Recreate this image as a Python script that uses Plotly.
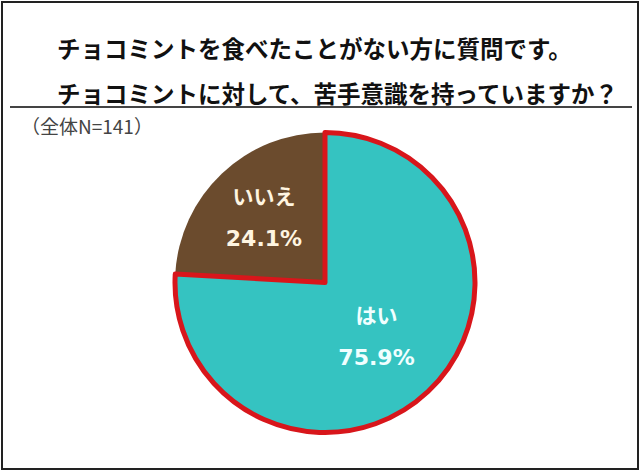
import plotly.graph_objects as go

title_lines = ["チョコミントを食べたことがない方に質問です。", "チョコミントに対して、苦手意識を持っていますか？"]
note = "（全体N=141）"
labels = ["いいえ", "はい"]
values = [24.1, 75.9]
colors = ["#6B4B2D", "#35C3C1"]
line_colors = ["rgba(0,0,0,0)", "#D8161B"]
line_widths = [0, 5]
text_colors = ["#FFF5E1", "#F0FFFF"]

W, H = 640, 471
font_jp = "Noto Sans CJK JP"
font_lbl = "DejaVu Sans, Noto Sans CJK JP"

# first slice ends at 12 o'clock, going clockwise
start_rot = -values[0] / sum(values) * 360

fig = go.Figure(go.Pie(
    labels=labels, values=values, sort=False, direction="clockwise", rotation=start_rot,
    marker=dict(colors=colors, line=dict(color=line_colors, width=line_widths)),
    texttemplate="<span style='font-size:21px'><b>%{label}</b></span><br><br>"
                 "<span style='font-size:22px'><b>%{percent:.1%}</b></span>",
    textposition="inside", insidetextorientation="horizontal",
    textfont=dict(family=font_lbl, size=16, color=text_colors),
    hoverinfo="skip", showlegend=False,
    domain=dict(x=[175 / W, 475 / W], y=[1 - 433 / H, 1 - 132 / H]),
))

fig.add_annotation(text="<b>" + title_lines[0] + "</b>", x=55 / W, y=1 - 48 / H, xref="paper", yref="paper",
                   xanchor="left", yanchor="middle", showarrow=False,
                   font=dict(family=font_jp, size=23.5, color="#111111"))
fig.add_annotation(text="<b>" + title_lines[1] + "</b>", x=55 / W, y=1 - 93 / H, xref="paper", yref="paper",
                   xanchor="left", yanchor="middle", showarrow=False,
                   font=dict(family=font_jp, size=23.5, color="#111111"))
fig.add_annotation(text=note, x=19 / W, y=1 - 126 / H, xref="paper", yref="paper",
                   xanchor="left", yanchor="middle", showarrow=False,
                   font=dict(family=font_jp, size=19, color="#444444"))

fig.add_shape(type="line", xref="paper", yref="paper", x0=10 / W, x1=632 / W, y0=1 - 107 / H, y1=1 - 107 / H,
              line=dict(color="#444444", width=2))
fig.add_shape(type="rect", xref="paper", yref="paper", x0=2 / W, x1=638 / W, y0=2 / H, y1=1 - 2 / H,
              line=dict(color="#222222", width=2))

fig.update_layout(width=W, height=H, margin=dict(l=0, r=0, t=0, b=0),
                  paper_bgcolor="white", plot_bgcolor="white")
fig.write_html("out.html", config={"displayModeBar": False},
               post_script="document.body.style.margin='0';document.body.style.overflow='hidden';")
